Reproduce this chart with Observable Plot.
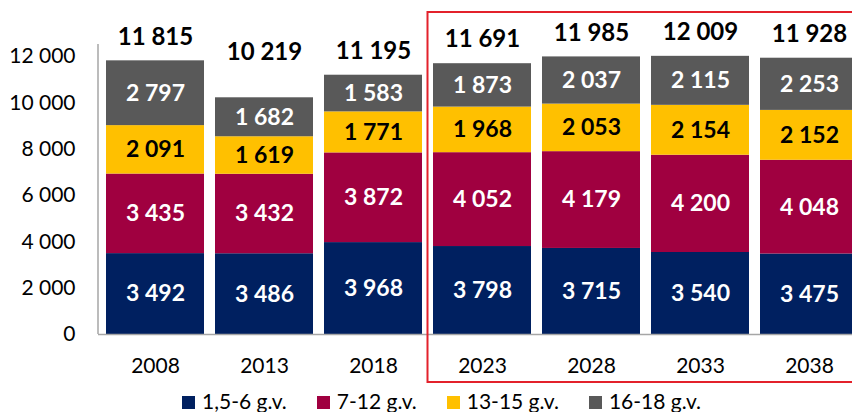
<!DOCTYPE html>
<html>
<head>
<meta charset="utf-8">
<script src="https://cdn.jsdelivr.net/npm/d3@7"></script>
<script src="https://cdn.jsdelivr.net/npm/@observablehq/plot@0.6"></script>
<style>
  html, body { margin: 0; padding: 0; overflow: hidden; background: #fff; }
  body { position: relative; width: 852px; height: 412px; font-family: Lato, sans-serif; }
  #legend { position: absolute; left: 182px; top: 390px; white-space: nowrap; font-size: 21px; line-height: 21px; color: #000; }
  #legend .item { display: inline-block; margin-right: 30px; }
  #legend .sw { display: inline-block; width: 13px; height: 13px; margin-right: 7px; }
</style>
</head>
<body>
<div id="chart"></div>
<div id="legend"></div>
<script>
// ---- data ----
const years = ["2008", "2013", "2018", "2023", "2028", "2033", "2038"];
const seriesNames = ["1,5-6 g.v.", "7-12 g.v.", "13-15 g.v.", "16-18 g.v."];
const seriesColors = ["#002060", "#A00040", "#FFC000", "#595959"];
const age1_6 = [3492, 3486, 3968, 3798, 3715, 3540, 3475];
const age7_12 = [3435, 3432, 3872, 4052, 4179, 4200, 4048];
const age13_15 = [2091, 1619, 1771, 1968, 2053, 2154, 2152];
const age16_18 = [2797, 1682, 1583, 1873, 2037, 2115, 2253];
const totals = [11815, 10219, 11195, 11691, 11985, 12009, 11928];
const yTicks = [0, 2000, 4000, 6000, 8000, 10000, 12000];
const highlightYears = ["2023", "2038"];
const raisedTotalYears = ["2013"];

const seriesValues = [age1_6, age7_12, age13_15, age16_18];
const data = seriesNames.flatMap((s, si) =>
  years.map((yr, i) => ({year: yr, series: s, value: seriesValues[si][i]})));
const totalData = years.map((yr, i) => ({year: yr, total: totals[i]}));

const fmt = d3.formatLocale({decimal: ",", thousands: "\u00a0", grouping: [3], currency: ["", ""]}).format(",d");
const darkText = "13-15 g.v.";

// y axis line + highlight frame, drawn from the scales
function axisLineY(index, scales, values, dim) {
  const g = d3.create("svg:g");
  const [y0, y1] = scales.y.range();
  g.append("line").attr("x1", dim.marginLeft).attr("x2", dim.marginLeft)
    .attr("y1", y0).attr("y2", y1).attr("stroke", "#a6a6a6").attr("stroke-width", 1.5);
  return g.node();
}
function highlightBox(index, scales, values, dim) {
  const x = scales.x, gap = x.step() - x.bandwidth();
  const left = x(highlightYears[0]) - gap / 2;
  const right = x(highlightYears[1]) + x.bandwidth() + gap / 2;
  const top = dim.marginTop - 32;
  const bottom = scales.y(0) + 48;
  return d3.create("svg:rect").attr("x", left).attr("y", top)
    .attr("width", right - left).attr("height", bottom - top)
    .attr("fill", "none").attr("stroke", "#E3212B").attr("stroke-width", 2).node();
}

const plot = Plot.plot({
  width: 852,
  height: 392,
  marginLeft: 98,
  marginRight: 0,
  marginTop: 44,
  marginBottom: 58,
  style: {fontFamily: "Lato, sans-serif", fontSize: "21px", color: "#000", background: "transparent", overflow: "visible"},
  x: {domain: years, range: [98, 866], paddingInner: 0.1, paddingOuter: 0.05, tickSize: 0, tickPadding: 24, label: null},
  y: {domain: [0, 12520], ticks: yTicks, tickFormat: fmt, tickSize: 0, tickPadding: 23, label: null},
  color: {domain: seriesNames, range: seriesColors},
  marks: [
    Plot.barY(data, {x: "year", y: "value", fill: "series", z: "series"}),
    Plot.ruleY([0], {stroke: "#a6a6a6", strokeWidth: 1.5}),
    axisLineY,
    Plot.text(data, Plot.stackY({x: "year", y: "value", z: "series",
      text: d => d.series !== darkText ? fmt(d.value) : null,
      fill: "white", fontWeight: "bold", fontSize: 23})),
    Plot.text(data, Plot.stackY({x: "year", y: "value", z: "series",
      text: d => d.series === darkText ? fmt(d.value) : null,
      fill: "black", fontWeight: "bold", fontSize: 23})),
    Plot.text(totalData.filter(d => !raisedTotalYears.includes(d.year)), {x: "year", y: "total", text: d => fmt(d.total),
      dy: -24, fill: "black", fontWeight: "bold", fontSize: 24}),
    Plot.text(totalData.filter(d => raisedTotalYears.includes(d.year)), {x: "year", y: "total", text: d => fmt(d.total),
      dy: -45, fill: "black", fontWeight: "bold", fontSize: 24}),
    highlightBox
  ]
});
document.getElementById("chart").appendChild(plot);

const legend = document.getElementById("legend");
seriesNames.forEach((s, i) => {
  const item = document.createElement("span");
  item.className = "item";
  const sw = document.createElement("span");
  sw.className = "sw";
  sw.style.background = seriesColors[i];
  item.appendChild(sw);
  item.appendChild(document.createTextNode(s));
  legend.appendChild(item);
});
</script>
</body>
</html>
